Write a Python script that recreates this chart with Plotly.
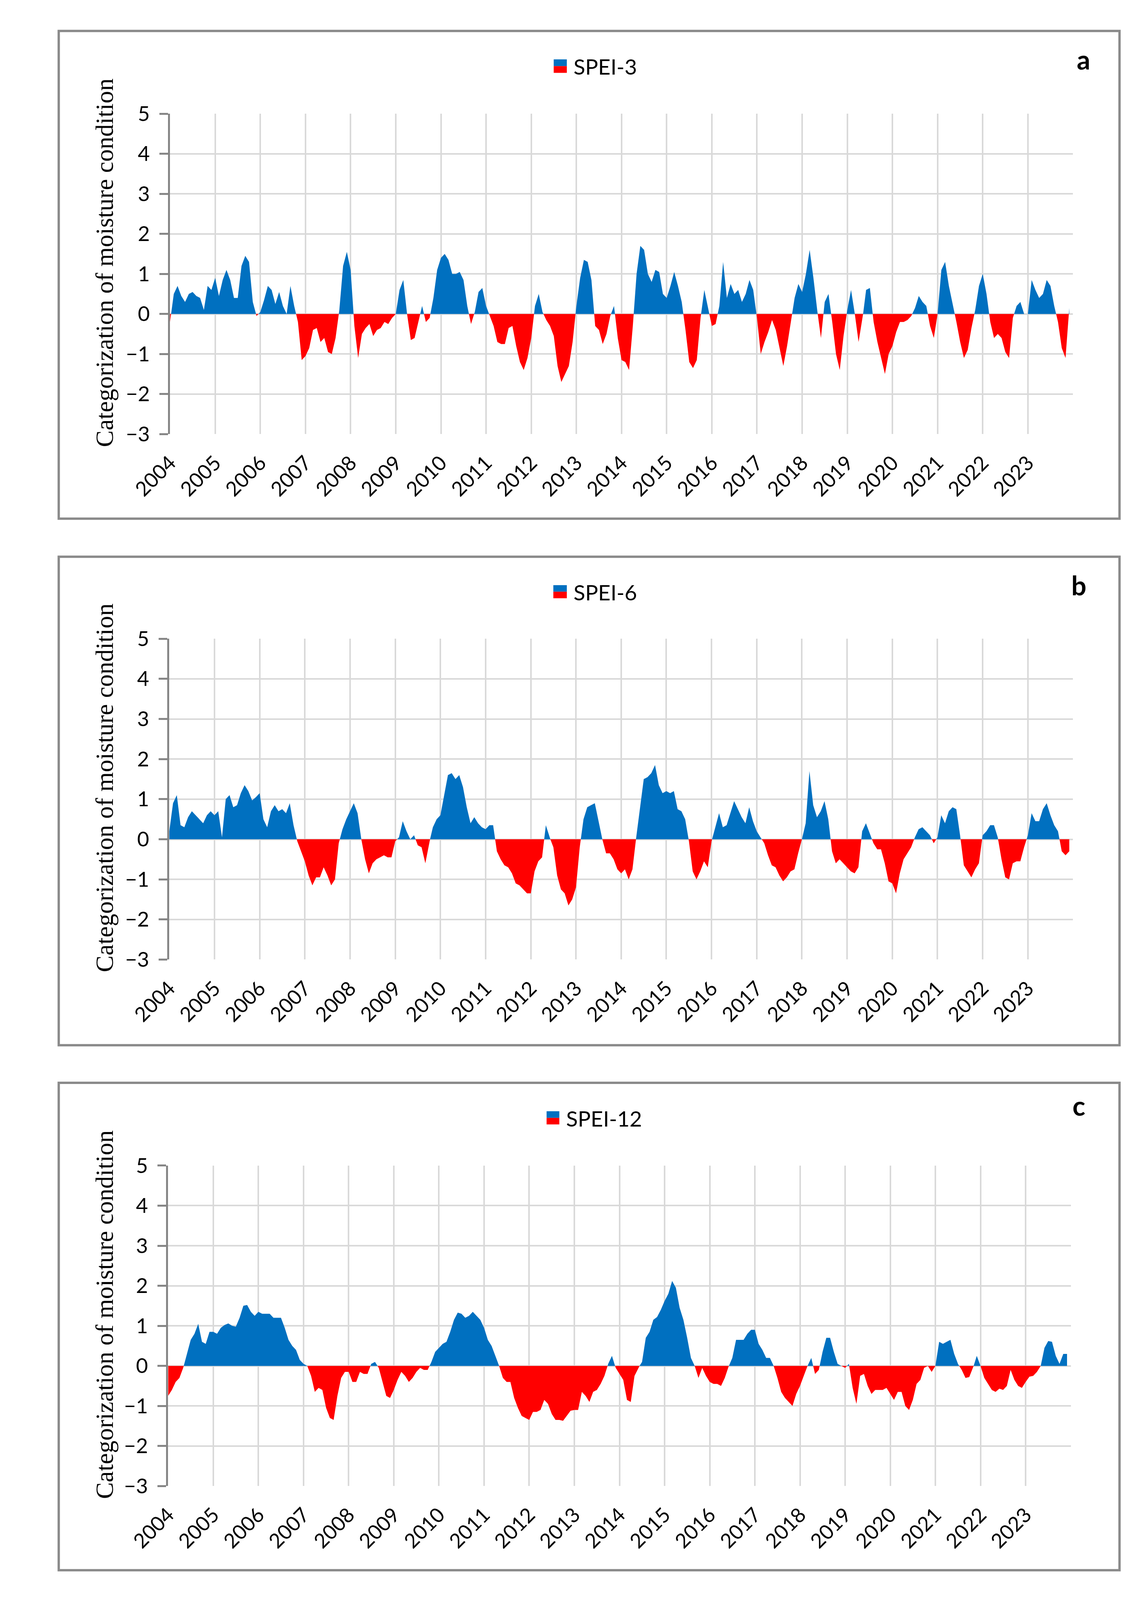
import plotly.graph_objects as go
from plotly.subplots import make_subplots

# monthly SPEI values, Jan 2004 .. Dec 2023
spei3 = [
    -0.2, 0.5, 0.7, 0.45, 0.3, 0.5, 0.55, 0.45, 0.4, 0.1, 0.7, 0.6,
    0.9, 0.45, 0.85, 1.1, 0.85, 0.4, 0.4, 1.2, 1.45, 1.3, 0.3, -0.05,
    0.05, 0.35, 0.7, 0.6, 0.25, 0.55, 0.2, 0.0, 0.7, 0.2, -0.2, -1.15,
    -1.05, -0.85, -0.4, -0.35, -0.7, -0.6, -0.95, -1.0, -0.6, 0.1, 1.2, 1.55,
    1.1, -0.3, -1.1, -0.5, -0.35, -0.25, -0.55, -0.4, -0.35, -0.2, -0.25, -0.1,
    0.0, 0.6, 0.85, 0.0, -0.65, -0.6, -0.2, 0.2, -0.2, -0.1, 0.4, 1.1,
    1.4, 1.5, 1.35, 1.0, 1.0, 1.05, 0.85, 0.2, -0.25, 0.05, 0.55, 0.65,
    0.2, -0.05, -0.3, -0.7, -0.75, -0.75, -0.35, -0.3, -0.8, -1.2, -1.4, -1.1,
    -0.6, 0.2, 0.5, 0.05, -0.15, -0.3, -0.55, -1.3, -1.7, -1.5, -1.3, -0.7,
    0.2, 0.9, 1.35, 1.3, 0.85, -0.3, -0.4, -0.75, -0.5, -0.05, 0.2, -0.6,
    -1.15, -1.2, -1.4, -0.3, 1.0, 1.7, 1.6, 1.0, 0.8, 1.1, 1.05, 0.5,
    0.4, 0.7, 1.05, 0.7, 0.3, -0.4, -1.2, -1.35, -1.15, -0.1, 0.6, 0.15,
    -0.3, -0.25, 0.2, 1.3, 0.4, 0.75, 0.5, 0.6, 0.3, 0.5, 0.85, 0.6,
    -0.1, -1.0, -0.7, -0.45, -0.15, -0.4, -0.85, -1.3, -0.8, -0.2, 0.4, 0.75,
    0.55, 1.0, 1.6, 0.9, 0.1, -0.6, 0.3, 0.5, -0.2, -1.0, -1.4, -0.55,
    0.1, 0.6, 0.0, -0.7, -0.15, 0.6, 0.65, -0.2, -0.7, -1.1, -1.5, -1.0,
    -0.8, -0.45, -0.2, -0.2, -0.15, -0.05, 0.15, 0.45, 0.3, 0.2, -0.3, -0.6,
    0.0, 1.1, 1.3, 0.7, 0.25, -0.2, -0.7, -1.1, -0.9, -0.35, 0.1, 0.7,
    1.0, 0.5, -0.2, -0.6, -0.5, -0.6, -0.95, -1.1, -0.1, 0.2, 0.3, 0.0,
    0.0, 0.85, 0.6, 0.4, 0.5, 0.85, 0.7, 0.2, -0.2, -0.85, -1.1, 0.15,
]

spei6 = [
    0.2, 0.9, 1.1, 0.35, 0.3, 0.55, 0.7, 0.6, 0.5, 0.4, 0.6, 0.7,
    0.6, 0.7, 0.05, 1.0, 1.1, 0.8, 0.85, 1.15, 1.35, 1.2, 0.97, 1.05,
    1.15, 0.5, 0.3, 0.7, 0.85, 0.7, 0.75, 0.65, 0.9, 0.35, -0.05, -0.3,
    -0.55, -0.9, -1.15, -0.95, -0.95, -0.7, -0.9, -1.15, -1.0, -0.1, 0.25, 0.5,
    0.7, 0.9, 0.65, 0.0, -0.5, -0.85, -0.6, -0.5, -0.45, -0.4, -0.45, -0.45,
    -0.05, 0.05, 0.45, 0.2, 0.0, 0.1, -0.15, -0.2, -0.6, -0.1, 0.3, 0.5,
    0.6, 1.1, 1.6, 1.65, 1.5, 1.6, 1.3, 0.8, 0.4, 0.55, 0.4, 0.3,
    0.25, 0.35, 0.35, -0.3, -0.5, -0.65, -0.7, -0.85, -1.1, -1.15, -1.25, -1.35,
    -1.35, -0.8, -0.55, -0.45, 0.35, 0.05, -0.2, -0.9, -1.25, -1.35, -1.65, -1.5,
    -1.2, -0.2, 0.5, 0.8, 0.85, 0.9, 0.45, 0.0, -0.35, -0.35, -0.5, -0.75,
    -0.85, -0.75, -1.0, -0.75, 0.05, 0.8, 1.5, 1.55, 1.65, 1.85, 1.35, 1.15,
    1.2, 1.15, 1.2, 0.75, 0.7, 0.5, -0.05, -0.8, -1.0, -0.8, -0.55, -0.7,
    -0.05, 0.3, 0.65, 0.3, 0.35, 0.65, 0.95, 0.75, 0.55, 0.4, 0.8, 0.45,
    0.2, 0.05, -0.1, -0.4, -0.65, -0.7, -0.9, -1.05, -0.95, -0.8, -0.75, -0.35,
    0.0, 0.4, 1.7, 0.85, 0.55, 0.7, 0.95, 0.5, -0.3, -0.6, -0.5, -0.6,
    -0.7, -0.8, -0.85, -0.7, 0.2, 0.4, 0.15, -0.1, -0.25, -0.25, -0.6, -1.05,
    -1.1, -1.35, -0.85, -0.5, -0.35, -0.2, 0.05, 0.25, 0.3, 0.2, 0.1, -0.1,
    0.05, 0.6, 0.4, 0.7, 0.8, 0.75, 0.1, -0.65, -0.8, -0.95, -0.75, -0.6,
    0.1, 0.2, 0.35, 0.35, 0.05, -0.5, -0.95, -1.0, -0.6, -0.55, -0.55, -0.2,
    0.1, 0.65, 0.45, 0.45, 0.75, 0.9, 0.6, 0.35, 0.2, -0.3, -0.4, -0.3,
]

spei12 = [
    -0.75, -0.6, -0.4, -0.3, -0.05, 0.3, 0.65, 0.8, 1.05, 0.6, 0.55, 0.85,
    0.85, 0.8, 0.95, 1.02, 1.06, 1.0, 0.98, 1.2, 1.5, 1.52, 1.35, 1.25,
    1.35, 1.3, 1.3, 1.3, 1.2, 1.2, 1.2, 0.95, 0.65, 0.5, 0.4, 0.15,
    0.05, 0.0, -0.25, -0.65, -0.55, -0.6, -1.05, -1.3, -1.35, -0.75, -0.3, -0.15,
    -0.15, -0.4, -0.4, -0.15, -0.2, -0.2, 0.05, 0.1, -0.05, -0.4, -0.75, -0.8,
    -0.6, -0.35, -0.15, -0.25, -0.4, -0.3, -0.15, -0.05, -0.1, -0.1, 0.1, 0.35,
    0.45, 0.55, 0.6, 0.85, 1.15, 1.33, 1.3, 1.2, 1.25, 1.35, 1.25, 1.15,
    0.95, 0.65, 0.5, 0.25, 0.0, -0.3, -0.4, -0.4, -0.8, -1.05, -1.25, -1.3,
    -1.35, -1.15, -1.15, -1.1, -0.85, -0.95, -1.2, -1.35, -1.35, -1.37, -1.25, -1.12,
    -1.1, -1.1, -0.65, -0.75, -0.9, -0.65, -0.6, -0.45, -0.25, 0.05, 0.25, -0.05,
    -0.2, -0.35, -0.85, -0.9, -0.25, -0.05, 0.1, 0.7, 0.85, 1.15, 1.22, 1.4,
    1.62, 1.8, 2.12, 1.95, 1.45, 1.15, 0.7, 0.2, 0.0, -0.3, -0.05, -0.25,
    -0.4, -0.45, -0.45, -0.5, -0.3, -0.02, 0.2, 0.65, 0.65, 0.65, 0.8, 0.9,
    0.9, 0.55, 0.4, 0.2, 0.2, 0.0, -0.3, -0.65, -0.8, -0.9, -1.0, -0.7,
    -0.5, -0.25, 0.0, 0.2, -0.2, -0.1, 0.35, 0.7, 0.7, 0.35, 0.05, 0.0,
    -0.05, 0.05, -0.55, -0.95, -0.25, -0.2, -0.5, -0.7, -0.6, -0.6, -0.6, -0.55,
    -0.7, -0.85, -0.65, -0.65, -1.0, -1.1, -0.85, -0.45, -0.35, -0.05, 0.0, -0.15,
    0.0, 0.6, 0.55, 0.6, 0.65, 0.3, 0.05, -0.1, -0.3, -0.28, -0.05, 0.25,
    0.0, -0.3, -0.45, -0.6, -0.65, -0.57, -0.6, -0.5, -0.1, -0.35, -0.5, -0.55,
    -0.4, -0.27, -0.25, -0.15, 0.0, 0.45, 0.62, 0.6, 0.25, 0.05, 0.3, 0.3,
]

series_names = ["SPEI-3", "SPEI-6", "SPEI-12"]
panel_letters = ["a", "b", "c"]
years = list(range(2004, 2025))
year_labels = [str(y) for y in years[:-1]] + [""]
y_ticks = list(range(-3, 6))

months = [2004 + i / 12 for i in range(len(spei3))]

BLUE = "#0070C0"
RED = "#FF0000"
GRID = "#D9D9D9"
AXIS = "#868686"
SANS = "Lato"
SERIF = "Liberation Serif"

# reference picture size, used to turn pixel positions into paper fractions
W, H = 2905, 4417


def fx(px):
    return px / W


def fy(py):
    return 1 - py / H


def split_signs(x, v):
    # add the zero crossings so the blue and red areas meet on the axis
    xs, pos, neg = [], [], []
    for i in range(len(v)):
        if i > 0 and v[i - 1] * v[i] < 0:
            xc = x[i - 1] + (x[i] - x[i - 1]) * v[i - 1] / (v[i - 1] - v[i])
            xs.append(xc)
            pos.append(0)
            neg.append(0)
        xs.append(x[i])
        pos.append(max(v[i], 0))
        neg.append(min(v[i], 0))
    return xs, pos, neg


# pixel boxes of each panel: plot area and outer frame
plots = [
    dict(x0=338, x1=2748, top=275, bottom=1177),
    dict(x0=336, x1=2748, top=1753, bottom=2656),
    dict(x0=333, x1=2742, top=3236, bottom=4138),
]
frames = [(41, 42, 2872, 1415), (41, 1522, 2872, 2897), (41, 3003, 2872, 4375)]
legend_box = [(1362, 122, 1397, 160), (1361, 1602, 1397, 1639), (1343, 3083, 1377, 3120)]
letter_pos = [(2776, 122), (2764, 1602), (2764, 3066)]

fig = make_subplots(rows=3, cols=1)

shapes = []
annotations = []

for k, vals in enumerate([spei3, spei6, spei12]):
    row = k + 1
    xs, pos, neg = split_signs(months, vals)
    fig.add_trace(go.Scatter(x=xs, y=pos, mode="lines", fill="tozeroy",
                             fillcolor=BLUE, line=dict(width=0, color=BLUE),
                             showlegend=False, hoverinfo="skip"), row=row, col=1)
    fig.add_trace(go.Scatter(x=xs, y=neg, mode="lines", fill="tozeroy",
                             fillcolor=RED, line=dict(width=0, color=RED),
                             showlegend=False, hoverinfo="skip"), row=row, col=1)

    p = plots[k]
    xdom = [fx(p["x0"]), fx(p["x1"])]
    ydom = [fy(p["bottom"]), fy(p["top"])]
    xname = "xaxis" if k == 0 else f"xaxis{row}"
    yname = "yaxis" if k == 0 else f"yaxis{row}"
    xref = "x" if k == 0 else f"x{row}"

    fig.layout[xname].update(
        domain=xdom, range=[2004, 2024], tickvals=years, ticktext=year_labels,
        tickangle=-45, showgrid=True, gridcolor=GRID, gridwidth=4,
        showline=False, zeroline=False, ticks="", ticklabelstandoff=32,
        tickfont=dict(family=SANS, size=52, color="#000000"),
    )
    fig.layout[yname].update(
        domain=ydom, range=[-3, 5], tickvals=y_ticks, showgrid=True,
        gridcolor=GRID, gridwidth=4, zeroline=False, showline=True,
        linecolor=AXIS, linewidth=5, ticks="outside", ticklen=22,
        tickwidth=5, tickcolor=AXIS, ticklabelstandoff=14,
        layer="above traces",
        tickfont=dict(family=SANS, size=53, color="#000000"),
    )

    # horizontal category axis drawn through y = 0, as in the original
    zero_pos = ydom[0] + (0 - (-3)) / 8 * (ydom[1] - ydom[0])
    fig.layout[f"xaxis{row + 3}"] = dict(
        overlaying=xref, anchor="free", position=zero_pos, domain=xdom,
        range=[2004, 2024], tickvals=years, showticklabels=False,
        showgrid=False, zeroline=False, showline=True, linecolor=AXIS,
        linewidth=6, ticks="outside", ticklen=16, tickwidth=5,
        tickcolor=AXIS, layer="above traces",
    )

    # outer frame
    fl, ft, fr, fb = frames[k]
    shapes.append(dict(type="rect", xref="paper", yref="paper",
                       x0=fx(fl), x1=fx(fr), y0=fy(fb), y1=fy(ft),
                       line=dict(color="#8A8A8A", width=6)))

    # legend swatch: blue over red
    lx0, ly0, lx1, ly1 = legend_box[k]
    ymid = (ly0 + ly1) / 2
    shapes.append(dict(type="rect", xref="paper", yref="paper",
                       x0=fx(lx0), x1=fx(lx1), y0=fy(ymid), y1=fy(ly0),
                       fillcolor=BLUE, line=dict(width=0)))
    shapes.append(dict(type="rect", xref="paper", yref="paper",
                       x0=fx(lx0), x1=fx(lx1), y0=fy(ly1), y1=fy(ymid),
                       fillcolor=RED, line=dict(width=0)))
    annotations.append(dict(text=series_names[k], xref="paper", yref="paper",
                            x=fx(lx1 + 16), y=fy(ymid + 1), xanchor="left",
                            yanchor="middle", showarrow=False,
                            font=dict(family=SANS, size=55, color="#000000")))

    # panel letter
    lx, ly = letter_pos[k]
    annotations.append(dict(text="<b>" + panel_letters[k] + "</b>", xref="paper",
                            yref="paper", x=fx(lx), y=fy(ly), xanchor="center",
                            yanchor="middle", showarrow=False,
                            font=dict(family=SANS, size=68, color="#000000")))

    # y-axis title
    annotations.append(dict(text="Categorization of moisture condition",
                            xref="paper", yref="paper", x=fx(163),
                            y=fy(p["top"] + 419), textangle=-90,
                            xanchor="center", yanchor="middle", showarrow=False,
                            font=dict(family=SERIF, size=64, color="#000000")))

# no fixed size: the figure fills the browser window
fig.update_layout(
    autosize=True,
    margin=dict(l=0, r=0, t=0, b=0),
    paper_bgcolor="white", plot_bgcolor="white",
    shapes=shapes, annotations=annotations,
    showlegend=False,
)

fig.write_html("out.html")
